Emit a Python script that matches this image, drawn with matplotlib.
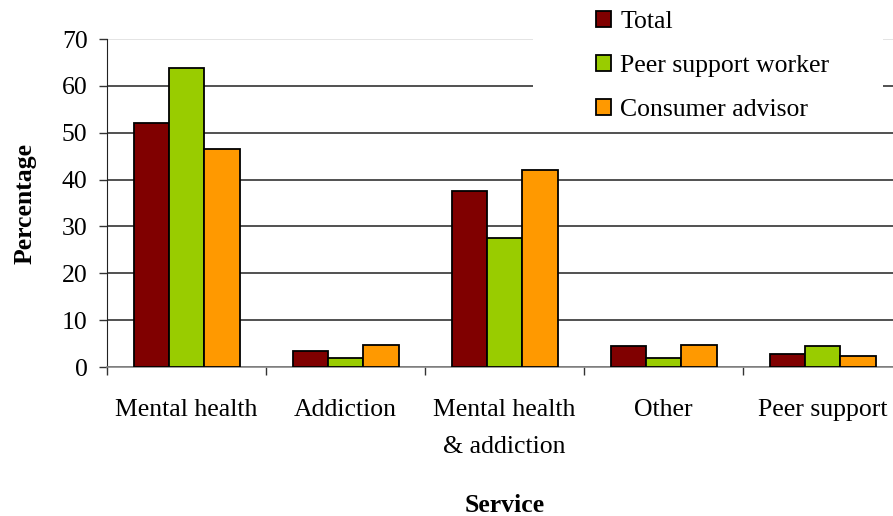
import numpy as np
import matplotlib
matplotlib.use("Agg")
import matplotlib.pyplot as plt
from matplotlib.patches import Patch, Rectangle

plt.rcParams["font.family"] = ["Liberation Serif", "DejaVu Serif"]

services = ["Mental health", "Addiction", "Mental health\n& addiction", "Other", "Peer support"]
total = [52.0, 3.4, 37.5, 4.4, 2.8]
peer_worker = [63.9, 2.0, 27.6, 2.0, 4.4]
consumer_advisor = [46.5, 4.8, 42.0, 4.8, 2.3]

series = [
    ("Total", total, "#800000"),
    ("Peer support worker", peer_worker, "#99CC00"),
    ("Consumer advisor", consumer_advisor, "#FF9900"),
]

fig = plt.figure(figsize=(8.93, 5.16), dpi=100)
ax = fig.add_axes([107 / 893, 149 / 516, 795 / 893, 328 / 516])

x = np.arange(len(services))
width = 1 / 4.5
for i, (name, vals, color) in enumerate(series):
    ax.bar(x + (i - 1) * width, vals, width, color=color, edgecolor="black",
           linewidth=1.3, zorder=3, label=name)

ax.set_xlim(-0.5, len(services) - 0.5)
ax.set_ylim(0, 70)
ax.set_yticks(range(0, 71, 10))
ax.tick_params(axis="y", labelsize=18.5, length=6, width=1, pad=8, color="#333333")

# category labels centred, tick marks on the boundaries between groups
ax.set_xticks(x)
ax.set_xticklabels(services, fontsize=18.5, linespacing=1.9)
ax.tick_params(axis="x", which="major", length=0, pad=23)
ax.set_xticks(np.arange(len(services) + 1) - 0.5, minor=True)
ax.tick_params(axis="x", which="minor", length=6, width=1, color="#333333")

ax.grid(axis="y", color="#222222", linewidth=1.1, zorder=0)
ax.set_axisbelow(True)
ax.get_ygridlines()[-1].set_color("#dddddd")

for side in ("top", "right"):
    ax.spines[side].set_visible(False)
ax.spines["left"].set_color("#222222")
ax.spines["bottom"].set_color("#888888")
ax.spines["bottom"].set_linewidth(1.2)

ax.set_ylabel("Percentage", fontsize=18.5, fontweight="bold", labelpad=18)
ax.set_xlabel("Service", fontsize=18.5, fontweight="bold", labelpad=26)

# white backdrop behind the legend
fig.patches.append(Rectangle((533 / 893, 1 - 128 / 516), 350 / 893, 128 / 516,
                             transform=fig.transFigure, facecolor="white",
                             edgecolor="none", zorder=4))
handles = [Patch(facecolor=c, edgecolor="black", linewidth=1.3) for _, _, c in series]
fig.legend(handles, [s[0] for s in series], loc="upper left",
           bbox_to_anchor=(596 / 893, 1 - 11 / 516), frameon=False, fontsize=18.5,
           handlelength=0.6, handleheight=0.6, handletextpad=0.35,
           labelspacing=0.84, borderaxespad=0.0, borderpad=0.0)

fig.savefig("out.png", dpi=100)
